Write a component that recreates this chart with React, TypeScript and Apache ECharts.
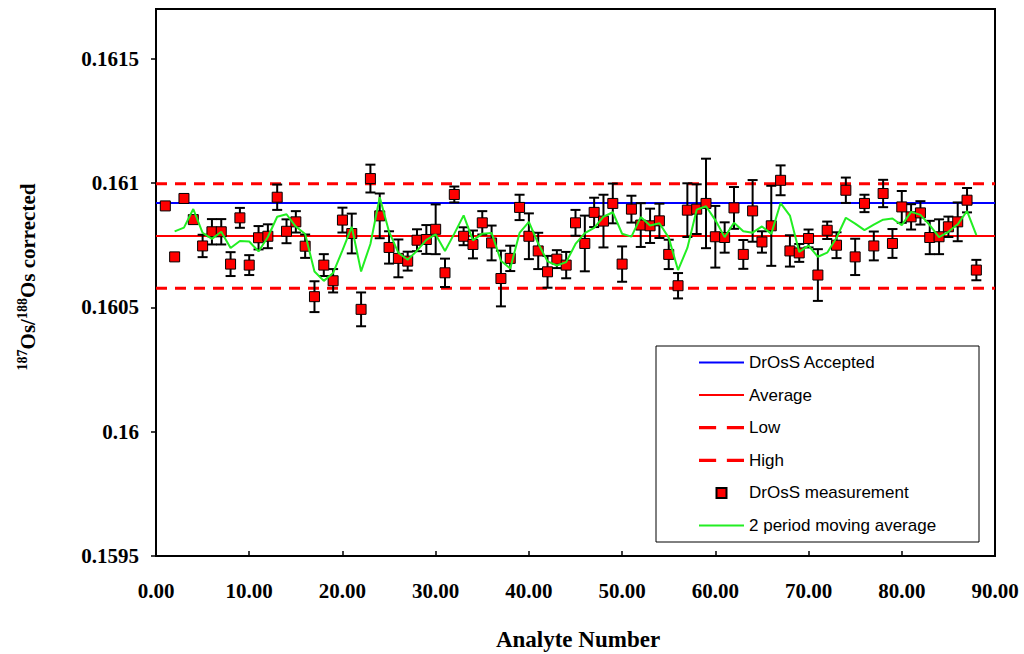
import React, { useEffect, useRef } from "react";
import * as echarts from "echarts";

// Measured 187Os/188Os for analyte numbers 1..88
const MEASURED: number[] = [
  0.160908, 0.160703, 0.160938, 0.160853, 0.160747, 0.160804, 0.160804, 0.160674, 0.16086, 0.16067,
  0.16078, 0.160786, 0.160943, 0.160806, 0.160844, 0.160746, 0.160543, 0.16067, 0.160607, 0.160851,
  0.160797, 0.160492, 0.161018, 0.160868, 0.160741, 0.160697, 0.160686, 0.16077, 0.160773, 0.160814,
  0.160639, 0.160954, 0.160786, 0.160753, 0.16084, 0.160759, 0.160616, 0.160697, 0.160902, 0.160786,
  0.160727, 0.160643, 0.160694, 0.16067, 0.16084, 0.160757, 0.160882, 0.160847, 0.160918, 0.160674,
  0.160895, 0.160831, 0.160828, 0.160848, 0.160713, 0.160587, 0.160891, 0.160895, 0.160918, 0.160784,
  0.160781, 0.1609, 0.160713, 0.160888, 0.160763, 0.160828, 0.161011, 0.160727, 0.160719, 0.160777,
  0.16063, 0.16081, 0.16075, 0.160971, 0.160703, 0.160918, 0.160747, 0.160958, 0.160757, 0.160904,
  0.160864, 0.16088, 0.160781, 0.160784, 0.160824, 0.160844, 0.160931, 0.16065,
];

// Error bar half-widths (same order)
const ERRORS: number[] = [
  0, 0, 0, 0, 0.000045, 0.000051, 0.000051, 0.000048, 0.00004, 0.00004,
  0.000047, 0.000048, 0.000051, 0.000048, 0.000043, 0.000047, 0.000062, 0.000044, 0.000047, 0.00005,
  0.00008, 0.000068, 0.000056, 0.00009, 0.000065, 0.000076, 0.000038, 0.000044, 0.000058, 0.0001,
  0.000057, 0.000032, 0.000036, 0.000056, 0.000047, 0.00007, 0.000112, 0.000051, 0.000051, 0.000092,
  0.000073, 0.000064, 0.000036, 0.000053, 0.000052, 0.000112, 0.000059, 0.000106, 0.00008, 0.000071,
  0.000054, 0.000088, 0.000069, 0.000069, 0.000059, 0.000051, 0.000108, 0.0001, 0.00018, 0.000124,
  0.000061, 0.000084, 0.000058, 0.000124, 0.000043, 0.000161, 0.00006, 0.000063, 0.000036, 0.000036,
  0.000104, 0.000035, 0.000052, 0.000051, 0.000073, 0.000035, 0.000058, 0.000055, 0.000058, 0.000064,
  0.000051, 0.000047, 0.000067, 0.00007, 0.000041, 0.000078, 0.000049, 0.000041,
];

const ACCEPTED = 0.16092;
const AVERAGE = 0.160787;
const LOW = 0.160577;
const HIGH = 0.160997;

const X_MIN = 0;
const X_MAX = 90;
const X_INTERVAL = 10;
const Y_MIN = 0.1595;
const Y_MAX = 0.1617;
const Y_TICKS = [0.1595, 0.16, 0.1605, 0.161, 0.1615];

const NAMES = [
  "DrOsS Accepted",
  "Average",
  "Low",
  "High",
  "DrOsS measurement",
  "2 period moving average",
];

const SERIF = "'Liberation Serif', 'Times New Roman', serif";
const SANS = "'Liberation Sans', Arial, sans-serif";

const ICON_SOLID = "path://M0,0H45V2H0Z";
const ICON_DASHED = "path://M0,0H16V3H0Z M26,0H42V3H26Z";
const ICON_SQUARE = "path://M0,0H10V10H0Z";

export default function App() {
  const ref = useRef<HTMLDivElement>(null);

  useEffect(() => {
    if (!ref.current) return;
    const chart = echarts.init(ref.current, undefined, { renderer: "svg" });

    const points = MEASURED.map((v, i) => [i + 1, v]);
    const bars = MEASURED.map((v, i) => [i + 1, v - ERRORS[i], v + ERRORS[i]]).filter(
      (_, i) => ERRORS[i] > 0
    );
    const moving = MEASURED.slice(1).map((v, i) => [i + 2, (MEASURED[i] + v) / 2]);
    const hline = (v: number) => [
      [X_MIN, v],
      [X_MAX, v],
    ];

    const option: any = {
      animation: false,
      backgroundColor: "#fff",
      grid: {
        left: 156,
        right: 29,
        top: 9,
        bottom: 98,
        show: true,
        borderColor: "#000",
        borderWidth: 2,
        backgroundColor: "transparent",
      },
      xAxis: {
        type: "value",
        min: X_MIN,
        max: X_MAX,
        interval: X_INTERVAL,
        splitLine: { show: false },
        axisLine: { show: true, lineStyle: { color: "#000", width: 2 } },
        axisTick: { show: true, inside: true, length: 5, lineStyle: { color: "#000", width: 1.5 } },
        axisLabel: {
          margin: 24,
          color: "#000",
          fontFamily: SERIF,
          fontWeight: "bold",
          fontSize: 21,
          formatter: (v: number) => v.toFixed(2),
        },
      },
      yAxis: {
        type: "value",
        min: Y_MIN,
        max: Y_MAX,
        splitLine: { show: false },
        axisLine: { show: true, lineStyle: { color: "#000", width: 2 } },
        axisTick: {
          show: true,
          inside: false,
          length: 5,
          customValues: Y_TICKS,
          lineStyle: { color: "#000", width: 1.5 },
        },
        axisLabel: {
          margin: 17,
          color: "#000",
          fontFamily: SERIF,
          fontWeight: "bold",
          fontSize: 21,
          customValues: Y_TICKS,
          formatter: (v: number) => String(+v.toFixed(4)),
        },
      },
      legend: {
        data: [
          { name: NAMES[0], icon: ICON_SOLID },
          { name: NAMES[1], icon: ICON_SOLID },
          { name: NAMES[2], icon: ICON_DASHED },
          { name: NAMES[3], icon: ICON_DASHED },
          { name: NAMES[4], icon: ICON_SQUARE },
          { name: NAMES[5], icon: ICON_SOLID },
        ],
        orient: "vertical",
        left: 699,
        top: 354,
        padding: 0,
        itemWidth: 45,
        itemHeight: 10,
        itemGap: 15.6,
        selectedMode: false,
        textStyle: { fontFamily: SANS, fontSize: 17, lineHeight: 17, color: "#000" },
        z: 10,
      },
      graphic: [
        {
          type: "rect",
          z: 5,
          shape: { x: 656, y: 346, width: 323, height: 196 },
          style: { fill: "#fff", stroke: "#000", lineWidth: 1 },
        },
        {
          type: "text",
          x: 28,
          y: 277,
          rotation: Math.PI / 2,
          style: {
            text: "{sup|187}{b|Os/}{sup|188}{b|Os corrected}",
            align: "center",
            verticalAlign: "middle",
            fill: "#000",
            rich: {
              b: { fontFamily: SERIF, fontWeight: "bold", fontSize: 21, lineHeight: 26, fill: "#000" },
              sup: {
                fontFamily: SERIF,
                fontWeight: "bold",
                fontSize: 14,
                lineHeight: 16,
                verticalAlign: "top",
                fill: "#000",
              },
            },
          },
        },
        {
          type: "text",
          x: 578,
          y: 639,
          style: {
            text: "Analyte Number",
            align: "center",
            verticalAlign: "middle",
            fill: "#000",
            fontFamily: SERIF,
            fontWeight: "bold",
            fontSize: 23,
          },
        },
      ],
      series: [
        {
          name: NAMES[0],
          type: "line",
          data: hline(ACCEPTED),
          symbol: "none",
          lineStyle: { color: "#0000ff", width: 2 },
          itemStyle: { color: "#0000ff" },
          z: 1,
        },
        {
          name: NAMES[1],
          type: "line",
          data: hline(AVERAGE),
          symbol: "none",
          lineStyle: { color: "#ff0000", width: 2 },
          itemStyle: { color: "#ff0000" },
          z: 1,
        },
        {
          name: NAMES[2],
          type: "line",
          data: hline(LOW),
          symbol: "none",
          lineStyle: { color: "#ff0000", width: 3, type: [11, 8] },
          itemStyle: { color: "#ff0000" },
          z: 1,
        },
        {
          name: NAMES[3],
          type: "line",
          data: hline(HIGH),
          symbol: "none",
          lineStyle: { color: "#ff0000", width: 3, type: [11, 8] },
          itemStyle: { color: "#ff0000" },
          z: 1,
        },
        {
          name: "errors",
          type: "custom",
          data: bars,
          encode: { x: 0, y: [1, 2] },
          z: 2,
          renderItem: (params: any, api: any) => {
            const x = api.value(0);
            const top = api.coord([x, api.value(2)]);
            const bot = api.coord([x, api.value(1)]);
            const hw = 5;
            const st = { stroke: "#000", lineWidth: 2 };
            return {
              type: "group",
              children: [
                { type: "line", shape: { x1: top[0], y1: top[1], x2: bot[0], y2: bot[1] }, style: st },
                { type: "line", shape: { x1: top[0] - hw, y1: top[1], x2: top[0] + hw, y2: top[1] }, style: st },
                { type: "line", shape: { x1: bot[0] - hw, y1: bot[1], x2: bot[0] + hw, y2: bot[1] }, style: st },
              ],
            };
          },
        },
        {
          name: NAMES[4],
          type: "scatter",
          data: points,
          symbol: "rect",
          symbolSize: 10,
          itemStyle: { color: "#ff0000", borderColor: "#000", borderWidth: 1, opacity: 1 },
          z: 3,
        },
        {
          name: NAMES[5],
          type: "line",
          data: moving,
          symbol: "none",
          lineStyle: { color: "#22ee22", width: 2 },
          itemStyle: { color: "#22ee22" },
          z: 4,
        },
      ],
    };

    chart.setOption(option);
    return () => chart.dispose();
  }, []);

  return (
    <div
      ref={ref}
      style={{ position: "fixed", left: 0, top: 0, width: 1024, height: 654, background: "#fff" }}
    />
  );
}
